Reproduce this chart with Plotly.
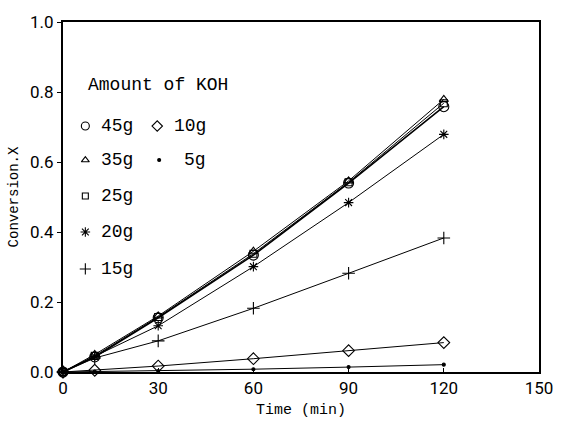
import plotly.graph_objects as go

time_min = [0, 10, 30, 60, 90, 120]
koh_45g = [0.0, 0.043, 0.155, 0.334, 0.540, 0.758]
koh_35g = [0.0, 0.050, 0.160, 0.345, 0.546, 0.779]
koh_25g = [0.0, 0.046, 0.157, 0.338, 0.542, 0.768]
koh_20g = [0.0, 0.045, 0.132, 0.301, 0.484, 0.679]
koh_15g = [0.0, 0.040, 0.089, 0.182, 0.282, 0.383]
koh_10g = [0.0, 0.005, 0.017, 0.038, 0.061, 0.084]
koh_5g = [0.0, 0.001, 0.003, 0.008, 0.014, 0.021]

x_ticks = [0, 30, 60, 90, 120, 150]
y_ticks = [0.0, 0.2, 0.4, 0.6, 0.8, 1.0]

W, H = 565, 427
L, R, T, B = 63, 12, 21, 46
X0, X1 = 0, 150
Y0, Y1 = 0.0, 1.0
pw, ph = W - L - R, H - T - B

def px2data(px, py):
    return (X0 + (px - L) / pw * (X1 - X0), Y1 - (py - T) / ph * (Y1 - Y0))

# name, values, symbol, data marker size, legend marker size, line width
series = [
    ("45g", koh_45g, "circle-open", 10, 8, 1.6),
    ("35g", koh_35g, "triangle-up-open", 8, 7, 1.0),
    ("25g", koh_25g, "square-open", 7, 6, 1.0),
    ("20g", koh_20g, "asterisk-open", 8, 8, 1.0),
    ("15g", koh_15g, "cross-thin-open", 9, 8, 1.0),
    ("10g", koh_10g, "diamond-open", 9, 8, 1.0),
    ("5g", koh_5g, "circle", 3, 3, 1.0),
]

fig = go.Figure()
for name, ys, sym, size, _, lw in series:
    fig.add_trace(go.Scatter(
        x=time_min, y=ys, mode="lines+markers", name=name,
        line=dict(color="black", width=lw),
        marker=dict(symbol=sym, size=size, color="black",
                    line=dict(color="black", width=1.1)),
        showlegend=False, cliponaxis=False))

# manual legend (two columns, column-major like the original)
legend_layout = [
    ("45g", 86, 128, 100, "left"), ("35g", 86, 163, 100, "left"),
    ("25g", 86, 200, 100, "left"), ("20g", 86, 237, 100, "left"),
    ("15g", 86, 275, 100, "left"), ("10g", 160, 128, 212, "right"),
    ("5g", 162, 163, 212, "right"),
]
style = {s[0]: s for s in series}
mono = "Liberation Mono, DejaVu Sans Mono, monospace"
for name, mx, my, tx, anchor in legend_layout:
    _, _, sym, _, lsize, _ = style[name]
    dx, dy = px2data(mx, my)
    fig.add_trace(go.Scatter(
        x=[dx], y=[dy], mode="markers", showlegend=False, hoverinfo="skip",
        marker=dict(symbol=sym, size=lsize, color="black",
                    line=dict(color="black", width=1.1))))
    fig.add_annotation(x=(tx - L) / pw, y=1 - (my - T) / ph, xref="paper", yref="paper",
                       text=name, showarrow=False, xanchor=anchor, yanchor="middle",
                       font=dict(family=mono, size=18, color="black"))
fig.add_annotation(x=(87 - L) / pw, y=1 - (86 - T) / ph, xref="paper", yref="paper",
                   text="Amount of KOH", showarrow=False, xanchor="left", yanchor="middle",
                   font=dict(family=mono, size=18, color="black"))

tick_font = dict(family="Liberation Sans Narrow, Roboto, Liberation Sans, sans-serif",
                 size=17, color="black")
fig.update_layout(
    width=W, height=H,
    margin=dict(l=L, r=R, t=T, b=B, pad=0),
    paper_bgcolor="white", plot_bgcolor="white",
    showlegend=False,
    xaxis=dict(range=[X0, X1], tickvals=x_ticks, ticktext=[str(v) for v in x_ticks],
               showgrid=False, zeroline=False, showline=True, mirror=True,
               linecolor="black", linewidth=2, ticks="inside", ticklen=4,
               tickcolor="black", tickfont=tick_font, ticklabeloverflow="allow",
               title=dict(text="Time (min)", standoff=6,
                          font=dict(family=mono, size=15, color="black"))),
    yaxis=dict(range=[Y0, Y1], tickvals=y_ticks, ticktext=[f"{v:.1f}" for v in y_ticks],
               showgrid=False, zeroline=False, showline=True, mirror=True,
               linecolor="black", linewidth=2, ticks="outside", ticklen=4,
               tickcolor="black", tickfont=tick_font, ticklabeloverflow="allow",
               title=dict(text="Conversion.X", standoff=8,
                          font=dict(family=mono, size=14, color="black"))),
)

fig.write_html("out.html")
